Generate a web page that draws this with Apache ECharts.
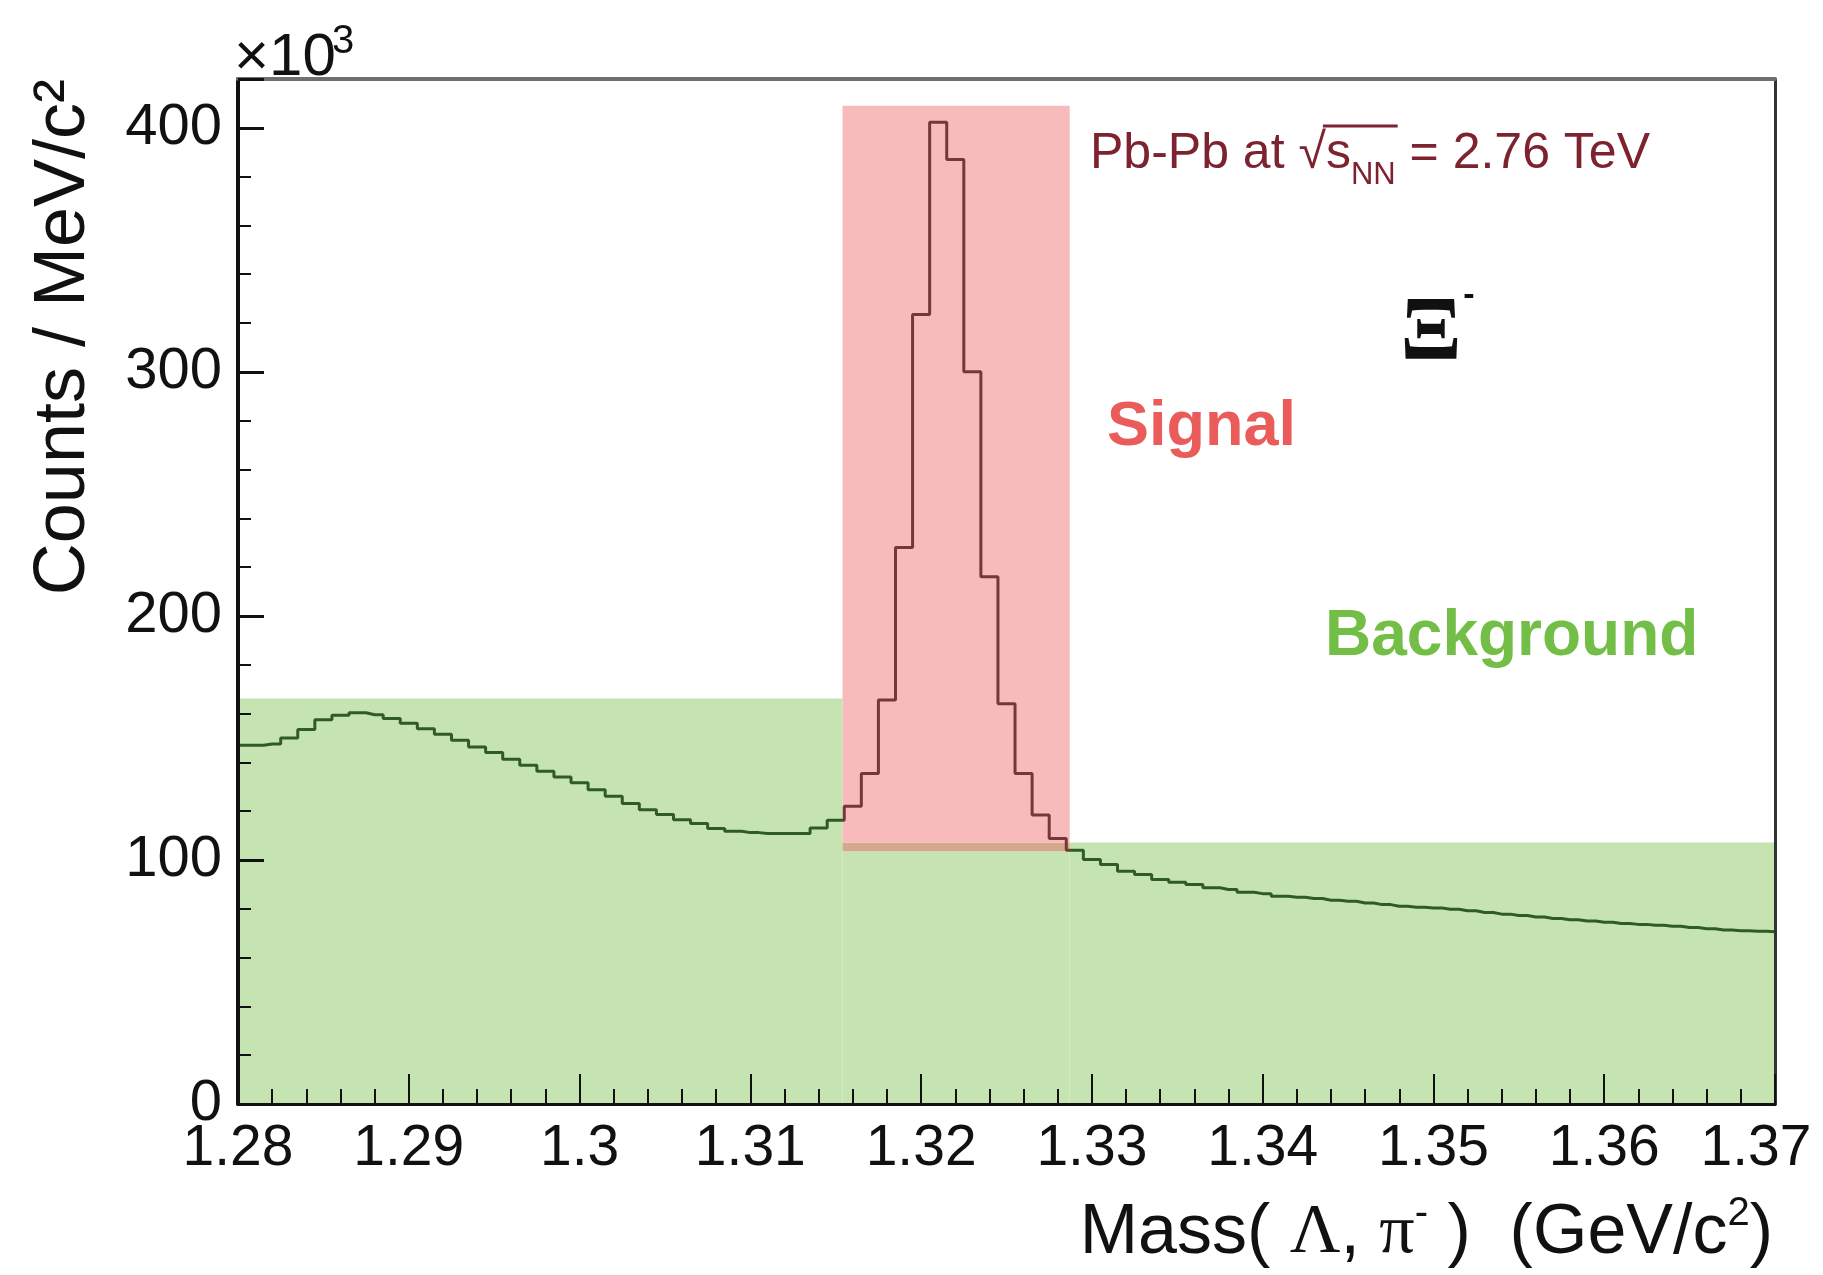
<!DOCTYPE html>
<html>
<head>
<meta charset="utf-8">
<title>Xi- invariant mass</title>
<script src="https://cdn.jsdelivr.net/npm/echarts@6/dist/echarts.min.js"></script>
<style>
  html, body { margin: 0; padding: 0; background: #fff; }
  #chart { width: 1823px; height: 1275px; }
</style>
</head>
<body>
<div id="chart"></div>
<script>
// bins are 1 MeV wide, the first one centred on the axis start
const binStart = 1.28
const binWidth = 0.001
// counts / MeV/c^2 in units of 10^3, one value per bin (1.280 ... 1.370)
const counts = [
  147, 147, 147.5, 150, 153.5, 157.5, 159.3, 160.3, 159.5, 158,
  156, 153.8, 151.5, 149, 146.3, 144, 141.3, 138.8, 136.3, 134,
  131.6, 128.8, 126.1, 123.1, 120.6, 118.6, 116.5, 114.9, 112.9, 111.8,
  111.2, 110.8, 110.8, 110.8, 113.1, 116.3, 122, 135.4, 165.5, 228,
  323.5, 402.3, 387, 300, 216, 164, 135.4, 118.4, 108.8, 104,
  100.2, 98.1, 95.4, 94.0, 92.0, 90.9, 89.9, 88.6, 87.9, 86.8,
  86.2, 85.1, 84.7, 84.2, 83.5, 83.1, 82.4, 81.7, 81.0, 80.6,
  80.3, 79.8, 79.2, 78.5, 77.8, 77.2, 76.6, 76.0, 75.5, 75.0,
  74.5, 74.0, 73.6, 73.2, 72.8, 72.3, 71.8, 71.3, 71.0, 70.8, 70.6
]

// axis ranges
const massRange = [1.28, 1.37]
const countRange = [0, 420]

// shaded regions: [mass from, mass to, count from, count to]
const backgroundBands = [
  [1.28, 1.3154, 0, 166.2],
  [1.3154, 1.3287, 0, 103.6],
  [1.3287, 1.37, 0, 107.2]
]
const overlapBands = [[1.3154, 1.3287, 103.6, 107.2]]
const signalBands = [[1.3154, 1.3287, 107.2, 409]]

const GREEN = '#c5e4b2'
const PINK = '#f6bbba'
const TAN = '#d5a78c'
const LINE_GREEN = '#2f5b25'
const LINE_RED = '#773737'
const FONT = '"Liberation Sans", Arial, sans-serif'

const histData = counts.map((v, i) => [+(binStart + i * binWidth).toFixed(4), v])

function renderBand(params, api) {
  const p0 = api.coord([api.value(0), api.value(3)])
  const p1 = api.coord([api.value(1), api.value(2)])
  return {
    type: 'rect',
    shape: { x: p0[0], y: p0[1], width: p1[0] - p0[0], height: p1[1] - p0[1] },
    style: { fill: api.visual('color') }
  }
}

// measure text so the sqrt(s_NN) pieces line up
const measureCtx = document.createElement('canvas').getContext('2d')
function textWidth(str, font) {
  measureCtx.font = font
  return measureCtx.measureText(str).width
}

function energyLabel(x0, y0) {
  const big = '50px ' + FONT
  const small = '31px ' + FONT
  const col = '#7d2330'
  const out = []
  let x = x0
  const pieces = [
    ['Pb-Pb at ', big, 0],
    ['\u221A', big, 0],
    ['s', big, 0],
    ['NN', small, 12],
    [' = 2.76 TeV', big, 0]
  ]
  let barStart = 0
  let barEnd = 0
  pieces.forEach(function (p) {
    const w = textWidth(p[0], p[1])
    out.push({
      type: 'text', x: x, y: y0 + p[2], z: 20,
      style: { text: p[0], font: p[1], fill: col, textAlign: 'left', textVerticalAlign: 'bottom', align: 'left', verticalAlign: 'bottom' }
    })
    if (p[0] === '\u221A') barStart = x + w - 3
    if (p[0] === 'NN') barEnd = x + w + 2
    x += w
  })
  out.push({
    type: 'line', z: 20,
    shape: { x1: barStart, y1: y0 - 53, x2: barEnd, y2: y0 - 53 },
    style: { stroke: col, lineWidth: 3 }
  })
  return out
}

const chart = echarts.init(document.getElementById('chart'))

chart.setOption({
  animation: false,
  textStyle: { fontFamily: FONT },
  grid: { left: 238, right: 48, top: 79, bottom: 171, containLabel: false, outerBoundsMode: 'none' },
  xAxis: [
    {
      type: 'value',
      min: massRange[0],
      max: massRange[1],
      interval: 0.01,
      z: 10,
      axisLine: { onZero: false, lineStyle: { color: '#111', width: 3 } },
      axisTick: { inside: true, length: 30, lineStyle: { color: '#111', width: 2 } },
      minorTick: { show: true, splitNumber: 5, length: 15, lineStyle: { color: '#111', width: 2 } },
      axisLabel: {
        fontSize: 57, color: '#111', margin: 17,
        // the last label is pulled in so it stays inside the page
        formatter: v => (Math.abs(v - massRange[1]) < 1e-9 ? '{last|' + v + '}' : String(v)),
        rich: { last: { fontSize: 57, color: '#111', padding: [0, 38, 0, 0] } }
      },
      splitLine: { show: false }
    },
    {
      type: 'value',
      position: 'top',
      min: massRange[0],
      max: massRange[1],
      z: 10,
      axisLine: { show: true, onZero: false, lineStyle: { color: '#707070', width: 4 } },
      axisTick: { show: false },
      axisLabel: { show: false },
      splitLine: { show: false }
    }
  ],
  yAxis: [
    {
      type: 'value',
      min: countRange[0],
      max: countRange[1],
      interval: 100,
      z: 10,
      axisLine: { show: true, onZero: false, lineStyle: { color: '#111', width: 4 } },
      axisTick: { show: true, inside: true, length: 26, lineStyle: { color: '#111', width: 3 } },
      axisLabel: {
        fontSize: 58, color: '#111', margin: 16,
        formatter: v => (v % 100 === 0 ? String(v) : '')
      },
      splitLine: { show: false }
    },
    {
      type: 'value',
      position: 'left',
      min: countRange[0],
      max: countRange[1],
      interval: 20,
      z: 10,
      axisLine: { show: false, onZero: false },
      axisTick: { show: true, inside: true, length: 13, lineStyle: { color: '#111', width: 2 } },
      axisLabel: { show: false },
      splitLine: { show: false }
    },
    {
      type: 'value',
      position: 'right',
      min: countRange[0],
      max: countRange[1],
      z: 10,
      axisLine: { show: true, onZero: false, lineStyle: { color: '#333', width: 3 } },
      axisTick: { show: false },
      axisLabel: { show: false },
      splitLine: { show: false }
    }
  ],
  visualMap: {
    show: false,
    type: 'piecewise',
    seriesIndex: 3,
    dimension: 0,
    pieces: [
      { lt: signalBands[0][0], color: LINE_GREEN },
      { gte: signalBands[0][0], lt: signalBands[0][1], color: LINE_RED },
      { gte: signalBands[0][1], color: LINE_GREEN }
    ]
  },
  series: [
    {
      name: 'Background region',
      type: 'custom',
      renderItem: renderBand,
      itemStyle: { color: GREEN },
      encode: { x: [0, 1], y: [2, 3] },
      data: backgroundBands,
      z: 1,
      silent: true
    },
    {
      name: 'Overlap',
      type: 'custom',
      renderItem: renderBand,
      itemStyle: { color: TAN },
      encode: { x: [0, 1], y: [2, 3] },
      data: overlapBands,
      z: 1,
      silent: true
    },
    {
      name: 'Signal region',
      type: 'custom',
      renderItem: renderBand,
      itemStyle: { color: PINK },
      encode: { x: [0, 1], y: [2, 3] },
      data: signalBands,
      z: 1,
      silent: true
    },
    {
      name: 'Counts',
      type: 'line',
      step: 'middle',
      showSymbol: false,
      data: histData,
      lineStyle: { width: 3 },
      z: 4,
      silent: true
    }
  ],
  graphic: [
    // y axis title, reads bottom to top
    {
      type: 'text', x: 64, y: 79, rotation: Math.PI / 2, z: 20,
      style: { text: 'Counts / MeV/c\u00B2', font: '72px ' + FONT, fill: '#111', textAlign: 'right', textVerticalAlign: 'middle', align: 'right', verticalAlign: 'middle' }
    },
    // x10^3 multiplier
    {
      type: 'text', x: 234, y: 88, z: 20,
      style: { text: '\u00D710', font: '60px ' + FONT, fill: '#111', textAlign: 'left', textVerticalAlign: 'bottom', align: 'left', verticalAlign: 'bottom' }
    },
    {
      type: 'text', x: 332, y: 62, z: 20,
      style: { text: '3', font: '40px ' + FONT, fill: '#111', textAlign: 'left', textVerticalAlign: 'bottom', align: 'left', verticalAlign: 'bottom' }
    },
    // x axis title
    {
      type: 'text', x: 1773, y: 1234, z: 20,
      style: {
        text: '{a|Mass( }{g|\u039B}{a|, }{g|\u03C0}{s|-}{a| )  (GeV/c}{s|2}{a|)}',
        textAlign: 'right', textVerticalAlign: 'middle', align: 'right', verticalAlign: 'middle',
        rich: {
          a: { font: '70px ' + FONT, fill: '#111', lineHeight: 80 },
          g: { font: '70px "Liberation Serif", serif', fill: '#111', lineHeight: 80 },
          s: { font: '40px ' + FONT, fill: '#111', verticalAlign: 'top', lineHeight: 80 }
        }
      }
    },
    ...energyLabel(1090, 179),
    // particle symbol
    {
      type: 'text', x: 1431, y: 336, z: 20,
      style: { text: '\u039E', font: 'bold 90px "Liberation Serif", serif', fill: '#111', textAlign: 'center', textVerticalAlign: 'middle', align: 'center', verticalAlign: 'middle' }
    },
    {
      type: 'text', x: 1469, y: 296, z: 20,
      style: { text: '-', font: 'bold 34px ' + FONT, fill: '#111', textAlign: 'center', textVerticalAlign: 'middle', align: 'center', verticalAlign: 'middle' }
    },
    {
      type: 'text', x: 1107, y: 428, z: 20,
      style: { text: 'Signal', font: 'bold 63px ' + FONT, fill: '#e95c5a', textAlign: 'left', textVerticalAlign: 'middle', align: 'left', verticalAlign: 'middle' }
    },
    {
      type: 'text', x: 1325, y: 637, z: 20,
      style: { text: 'Background', font: 'bold 64px ' + FONT, fill: '#73be46', textAlign: 'left', textVerticalAlign: 'middle', align: 'left', verticalAlign: 'middle' }
    }
  ]
})
</script>
</body>
</html>
